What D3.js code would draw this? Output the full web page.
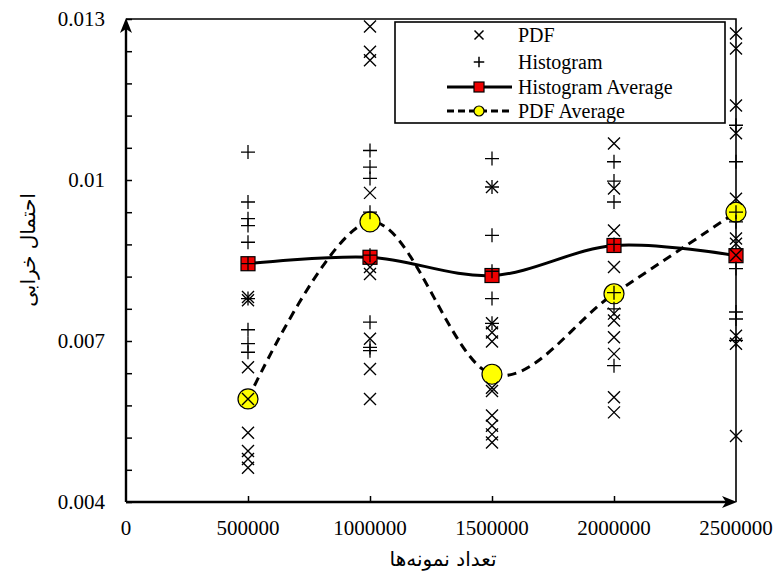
<!DOCTYPE html>
<html>
<head>
<meta charset="utf-8">
<script src="https://cdn.jsdelivr.net/npm/d3@7"></script>
<style>
html,body{margin:0;padding:0;background:#fff;}
svg{display:block;}
</style>
</head>
<body>
<svg id="chart" width="777" height="577"></svg>
<script>
// ---- data ----
const sampleSizes = [500000, 1000000, 1500000, 2000000, 2500000];
const histogramPoints = [
  [0.01052, 0.00959, 0.00928, 0.00915, 0.00884, 0.00844, 0.00779, 0.00721, 0.00695, 0.00679],
  [0.01055, 0.01024, 0.01003, 0.00940, 0.00860, 0.00735, 0.00688, 0.00682],
  [0.01040, 0.00987, 0.00897, 0.00830, 0.00779, 0.00733],
  [0.01034, 0.00998, 0.00959, 0.00880, 0.00790, 0.00760, 0.00654],
  [0.01102, 0.01034, 0.00940, 0.00922, 0.00835, 0.00754, 0.00741, 0.00701]
];
const pdfPoints = [
  [0.00782, 0.00776, 0.00651, 0.00592, 0.00529, 0.00495, 0.00480, 0.00464],
  [0.01286, 0.01239, 0.01223, 0.00976, 0.00838, 0.00825, 0.00704, 0.00648, 0.00592],
  [0.00987, 0.00733, 0.00716, 0.00699, 0.00613, 0.00607, 0.00561, 0.00542, 0.00526, 0.00511],
  [0.01068, 0.00984, 0.00906, 0.00838, 0.00751, 0.00738, 0.00707, 0.00676, 0.00595, 0.00567],
  [0.01273, 0.01245, 0.01139, 0.01087, 0.00965, 0.00891, 0.00881, 0.00860, 0.00710, 0.00695, 0.00523]
];
const histogramAverage = [0.00844, 0.00856, 0.00822, 0.00878, 0.00859];
const pdfAverage = [0.00592, 0.00922, 0.00638, 0.00788, 0.00940];
const xTickValues = [0, 500000, 1000000, 1500000, 2000000, 2500000];
const yTickValues = [0.004, 0.007, 0.01, 0.013];
const yTickLabels = ["0.004", "0.007", "0.01", "0.013"];
const legendLabels = ["PDF", "Histogram", "Histogram Average", "PDF Average"];
const xTitle = "تعداد نمونه‌ها";
const yTitle = "احتمال خرابی";

// ---- layout ----
const L = 126, T = 19, R = 736, B = 502;
const svg = d3.select("#chart");
const x = d3.scaleLinear().domain([0, 2500000]).range([L, R]);
const y = d3.scaleLinear().domain([0.004, 0.013]).range([B, T]);
const serif = "'Liberation Serif','Times New Roman',serif";

// plot border (top and right)
svg.append("path").attr("d", `M${L},${T}H${R}V${B}`)
  .attr("fill", "none").attr("stroke", "#000").attr("stroke-width", 1.6);

// y axis
const yAxis = d3.axisRight(y).tickValues(d3.range(0, 16).map(i => 0.004 + i * 0.0006))
  .tickSize(6).tickFormat("");
const gy = svg.append("g").attr("transform", `translate(${L},0)`).call(yAxis);
gy.select(".domain").remove();
gy.selectAll(".tick line").attr("stroke", "#000").attr("stroke-width", 1.5);
svg.append("line").attr("x1", L).attr("x2", L).attr("y1", B).attr("y2", T + 6)
  .attr("stroke", "#000").attr("stroke-width", 2.4);
// y labels
svg.append("g").selectAll("text").data(yTickValues).join("text")
  .attr("x", 105).attr("y", d => y(d)).attr("dy", "0.35em")
  .attr("text-anchor", "end").attr("font-family", serif).attr("font-size", 21)
  .text((d, i) => yTickLabels[i]);

// x axis
const xAxis = d3.axisTop(x).tickValues(xTickValues.slice(1, 5)).tickSize(6).tickFormat("");
const gx = svg.append("g").attr("transform", `translate(0,${B})`).call(xAxis);
gx.select(".domain").remove();
gx.selectAll(".tick line").attr("stroke", "#000").attr("stroke-width", 1.5);
svg.append("line").attr("x1", L).attr("x2", R - 6).attr("y1", B).attr("y2", B)
  .attr("stroke", "#000").attr("stroke-width", 2.4);
svg.append("g").selectAll("text").data(xTickValues).join("text")
  .attr("x", d => x(d)).attr("y", 535)
  .attr("text-anchor", "middle").attr("font-family", serif).attr("font-size", 21)
  .text(d => String(d));

// arrowheads
svg.append("path").attr("d", `M${L},${T - 1} L${L - 6},${T + 14} L${L},${T + 10} L${L + 6},${T + 14} Z`).attr("fill", "#000");
svg.append("path").attr("d", `M${R + 1},${B} L${R - 14},${B - 6} L${R - 10},${B} L${R - 14},${B + 6} Z`).attr("fill", "#000");

// axis titles
svg.append("text").attr("x", 443).attr("y", 566).attr("text-anchor", "middle")
  .attr("font-family", "'DejaVu Sans',sans-serif").attr("font-size", 20).attr("direction", "rtl")
  .text(xTitle);
svg.append("text").attr("transform", "translate(35,250) rotate(-90)").attr("text-anchor", "middle")
  .attr("font-family", "'DejaVu Sans',sans-serif").attr("font-size", 20).attr("direction", "rtl")
  .text(yTitle);

// average curves
const curve = d3.curveCardinal.tension(0);
const histLine = d3.line().x((d, i) => x(sampleSizes[i])).y(d => y(d)).curve(curve);
svg.append("path").attr("d", histLine(histogramAverage)).attr("fill", "none")
  .attr("stroke", "#000").attr("stroke-width", 3);
svg.append("path").attr("d", histLine(pdfAverage)).attr("fill", "none")
  .attr("stroke", "#000").attr("stroke-width", 3).attr("stroke-dasharray", "9,6");

svg.append("g").selectAll("rect").data(histogramAverage).join("rect")
  .attr("x", (d, i) => x(sampleSizes[i]) - 7).attr("y", d => y(d) - 7)
  .attr("width", 14).attr("height", 14).attr("fill", "#ee0000").attr("stroke", "#000").attr("stroke-width", 1.2);
svg.append("g").selectAll("circle").data(pdfAverage).join("circle")
  .attr("cx", (d, i) => x(sampleSizes[i])).attr("cy", d => y(d)).attr("r", 10)
  .attr("fill", "#ffff00").attr("stroke", "#000").attr("stroke-width", 1.2);

// scatter markers
function flat(arr) {
  const out = [];
  arr.forEach((vals, i) => vals.forEach(v => out.push({ s: sampleSizes[i], v })));
  return out;
}
const plusPath = "M-7,0H7M0,-7V7";
const crossPath = "M-6,-6L6,6M-6,6L6,-6";
svg.append("g").selectAll("path").data(flat(histogramPoints)).join("path")
  .attr("transform", d => `translate(${x(d.s)},${y(d.v)})`).attr("d", plusPath)
  .attr("stroke", "#000").attr("stroke-width", 1.3).attr("fill", "none");
svg.append("g").selectAll("path").data(flat(pdfPoints)).join("path")
  .attr("transform", d => `translate(${x(d.s)},${y(d.v)})`).attr("d", crossPath)
  .attr("stroke", "#000").attr("stroke-width", 1.4).attr("fill", "none");

// legend
const lg = svg.append("g");
lg.append("rect").attr("x", 395).attr("y", 22).attr("width", 330).attr("height", 101)
  .attr("fill", "#fff").attr("stroke", "#000").attr("stroke-width", 1.6);
const ly = [35, 62, 87, 111];
const sx = 479;
lg.append("path").attr("transform", `translate(${sx},${ly[0]}) scale(0.75)`).attr("d", crossPath)
  .attr("stroke", "#000").attr("stroke-width", 2).attr("fill", "none");
lg.append("path").attr("transform", `translate(${sx},${ly[1]}) scale(0.75)`).attr("d", plusPath)
  .attr("stroke", "#000").attr("stroke-width", 2).attr("fill", "none");
lg.append("line").attr("x1", 447).attr("x2", 512).attr("y1", ly[2]).attr("y2", ly[2])
  .attr("stroke", "#000").attr("stroke-width", 3);
lg.append("rect").attr("x", sx - 5).attr("y", ly[2] - 5).attr("width", 10).attr("height", 10)
  .attr("fill", "#ee0000").attr("stroke", "#000").attr("stroke-width", 1.2);
lg.append("line").attr("x1", 447).attr("x2", 512).attr("y1", ly[3]).attr("y2", ly[3])
  .attr("stroke", "#000").attr("stroke-width", 3).attr("stroke-dasharray", "7,4");
lg.append("circle").attr("cx", sx).attr("cy", ly[3]).attr("r", 5)
  .attr("fill", "#ffff00").attr("stroke", "#000").attr("stroke-width", 1.2);
lg.selectAll("text.lbl").data(legendLabels).join("text").attr("class", "lbl")
  .attr("x", 518).attr("y", (d, i) => ly[i]).attr("dy", "0.33em")
  .attr("font-family", serif).attr("font-size", 20).text(d => d);
</script>
</body>
</html>
